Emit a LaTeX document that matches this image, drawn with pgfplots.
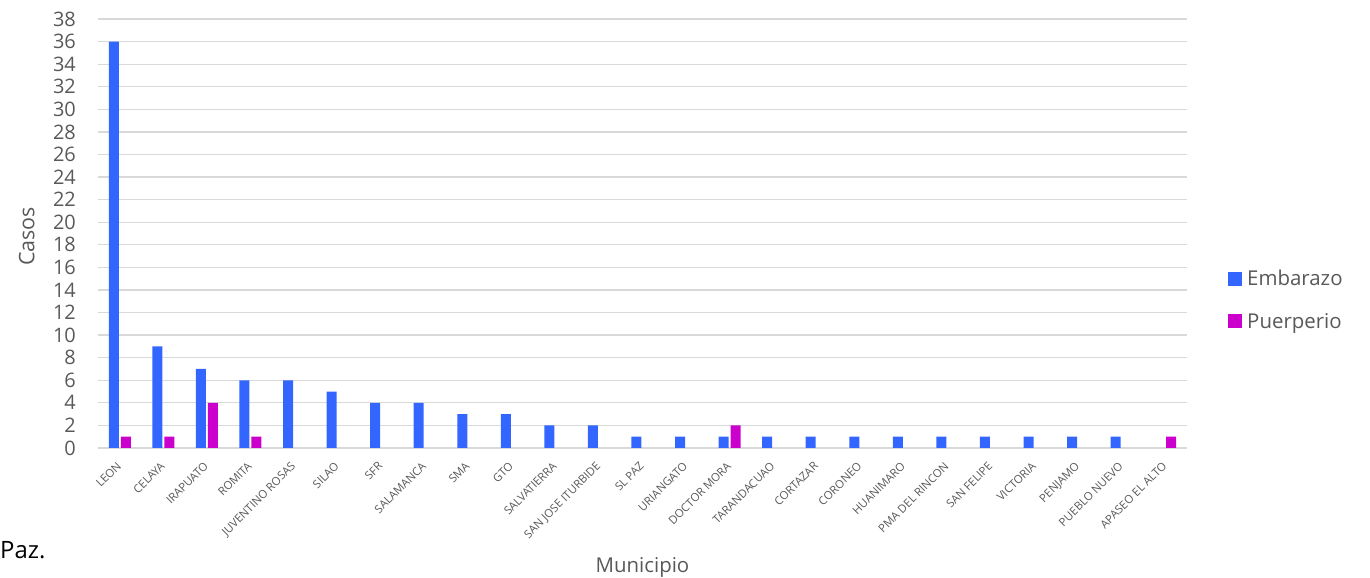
\documentclass[border=0pt]{standalone}
\usepackage{pgfplots}
\pgfplotsset{compat=1.18}
\usepackage{fontspec}
\setmainfont{Open Sans}
\definecolor{emb}{HTML}{3366FF}
\definecolor{pue}{HTML}{CC00CC}
\definecolor{txt}{HTML}{595959}
\definecolor{grd}{HTML}{D9D9D9}
\begin{document}
\begin{tikzpicture}
\path[use as bounding box] (0,0) rectangle (1370bp,578bp);
\begin{axis}[
  at={(98bp,130bp)}, anchor=south west,
  scale only axis, width=1089bp, height=429bp,
  ybar=2bp, bar width=10bp,
  xmin=-0.5, xmax=24.5, ymin=0, ymax=38,
  ytick={0,2,...,38},
  xtick={0,...,24},
  xticklabels={LEON,CELAYA,IRAPUATO,ROMITA,JUVENTINO ROSAS,SILAO,SFR,SALAMANCA,SMA,GTO,SALVATIERRA,SAN JOSE ITURBIDE,SL PAZ,URIANGATO,DOCTOR MORA,TARANDACUAO,CORTAZAR,CORONEO,HUANIMARO,PMA DEL RINCON,SAN FELIPE,VICTORIA,PENJAMO,PUEBLO NUEVO,APASEO EL ALTO},
  xticklabel style={rotate=45, anchor=north east, font=\fontsize{11.4}{13}\selectfont, text=txt, inner sep=1pt, yshift=-5.5bp, xshift=-10.8bp},
  yticklabel style={font=\fontsize{20}{22}\selectfont, text=txt, inner sep=0pt, xshift=-22bp},
  /pgf/number format/assume math mode=true,
  major tick length=0pt,
  ymajorgrids, grid style={grd, line width=1.3bp},
  axis x line*=bottom, axis y line*=left,
  x axis line style={grd, line width=1.3bp, -},
  y axis line style={draw=none},
  xlabel={Municipio}, ylabel={Casos},
  xlabel style={font=\fontsize{20.5}{22}\selectfont, text=txt, at={(rel axis cs:0.5,0)}, anchor=base, yshift=-124bp},
  ylabel style={font=\fontsize{21.5}{23}\selectfont, text=txt, at={(rel axis cs:0,0.5)}, anchor=south, xshift=-3bp, yshift=60bp},
  legend style={draw=none, at={(rel axis cs:1.0377,0.345)}, anchor=west, font=\fontsize{20.5}{22}\selectfont, text=txt, row sep=22bp, inner sep=0pt},
  legend cell align=left,
  legend image code/.code={\fill[#1] (0bp,-7bp) rectangle (14bp,7bp);},
  legend style={/tikz/every even column/.append style={column sep=0pt}},
]
\addplot[fill=emb, draw=none] coordinates {(0,36)(1,9)(2,7)(3,6)(4,6)(5,5)(6,4)(7,4)(8,3)(9,3)(10,2)(11,2)(12,1)(13,1)(14,1)(15,1)(16,1)(17,1)(18,1)(19,1)(20,1)(21,1)(22,1)(23,1)(24,0)};
\addplot[fill=pue, draw=none] coordinates {(0,1)(1,1)(2,4)(3,1)(4,0)(5,0)(6,0)(7,0)(8,0)(9,0)(10,0)(11,0)(12,0)(13,0)(14,2)(15,0)(16,0)(17,0)(18,0)(19,0)(20,0)(21,0)(22,0)(23,0)(24,1)};
\legend{\hspace*{3bp}Embarazo,\hspace*{3bp}Puerperio}
\end{axis}
\node[anchor=base west, inner sep=0pt, font=\fontsize{24}{26}\selectfont, text=black] at (0bp,20bp) {Paz.};
\end{tikzpicture}
\end{document}
